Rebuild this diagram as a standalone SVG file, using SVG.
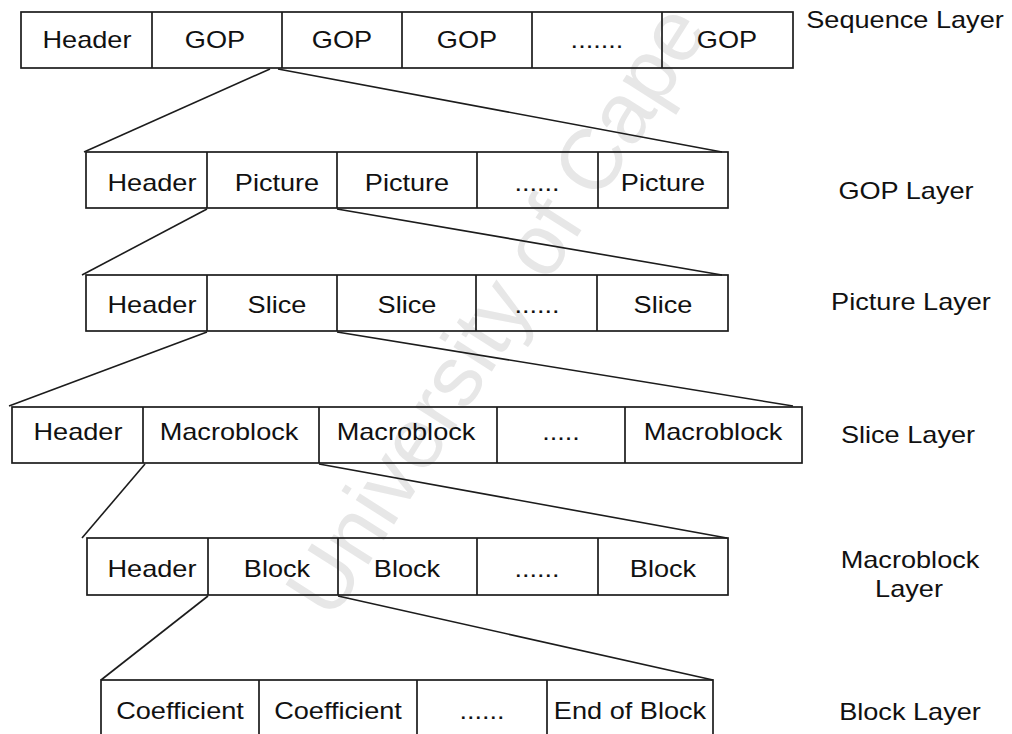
<svg xmlns="http://www.w3.org/2000/svg" width="1012" height="734" viewBox="0 0 1012 734">
  <style>
    .cell { fill: none; stroke: #1c1c1c; stroke-width: 1.7; }
    .link { fill: none; stroke: #1c1c1c; stroke-width: 1.6; }
    .t { font-family: "Liberation Sans", Arial, sans-serif; font-size: 23px; fill: #111; text-anchor: middle; }
    .wm { font-family: "Liberation Sans", Arial, sans-serif; font-size: 86px; fill: #e7e7e7; }
  </style>
  <rect width="1012" height="734" fill="#fff"/>

  <!-- faint background watermark -->
  <text class="wm" transform="translate(332 622) rotate(-57.5)">University of Cape</text>

  <!-- connectors between layers -->
  <g id="connectors">
    <polyline class="link" points="84,152 270,69"/>
    <polyline class="link" points="278,69 722,152"/>
    <polyline class="link" points="82,275 207,209"/>
    <polyline class="link" points="337,209 722,275"/>
    <polyline class="link" points="9,406 207,332"/>
    <polyline class="link" points="337,332 793,406"/>
    <polyline class="link" points="82,538 145,464"/>
    <polyline class="link" points="319,464 727,538"/>
    <polyline class="link" points="101,680 208,596"/>
    <polyline class="link" points="338,596 713,680"/>
  </g>

  <!-- Sequence layer -->
  <g id="sequence">
    <rect class="cell" x="21" y="12" width="772" height="56"/>
    <path class="cell" d="M152 12V68M282 12V68M402 12V68M532 12V68M662 12V68"/>
    <text class="t" transform="translate(87 48) scale(1.18 1)">Header</text>
    <text class="t" transform="translate(215 48) scale(1.18 1)">GOP</text>
    <text class="t" transform="translate(342 48) scale(1.18 1)">GOP</text>
    <text class="t" transform="translate(467 48) scale(1.18 1)">GOP</text>
    <text class="t" transform="translate(597 48) scale(1.18 1)">.......</text>
    <text class="t" transform="translate(727 48) scale(1.18 1)">GOP</text>
  </g>

  <!-- GOP layer -->
  <g id="gop">
    <rect class="cell" x="86" y="152" width="642" height="56"/>
    <path class="cell" d="M207 152V208M337 152V208M477 152V208M598 152V208"/>
    <text class="t" transform="translate(152 191) scale(1.18 1)">Header</text>
    <text class="t" transform="translate(277 191) scale(1.18 1)">Picture</text>
    <text class="t" transform="translate(407 191) scale(1.18 1)">Picture</text>
    <text class="t" transform="translate(537 191) scale(1.18 1)">......</text>
    <text class="t" transform="translate(663 191) scale(1.18 1)">Picture</text>
  </g>

  <!-- Picture layer -->
  <g id="picture">
    <rect class="cell" x="86" y="275" width="642" height="56"/>
    <path class="cell" d="M207 275V331M337 275V331M476 275V331M597 275V331"/>
    <text class="t" transform="translate(152 313) scale(1.18 1)">Header</text>
    <text class="t" transform="translate(277 313) scale(1.18 1)">Slice</text>
    <text class="t" transform="translate(407 313) scale(1.18 1)">Slice</text>
    <text class="t" transform="translate(537 313) scale(1.18 1)">......</text>
    <text class="t" transform="translate(663 313) scale(1.18 1)">Slice</text>
  </g>

  <!-- Slice layer -->
  <g id="slice">
    <rect class="cell" x="12" y="407" width="790" height="56"/>
    <path class="cell" d="M143 407V463M319 407V463M497 407V463M625 407V463"/>
    <text class="t" transform="translate(78 440) scale(1.18 1)">Header</text>
    <text class="t" transform="translate(229 440) scale(1.18 1)">Macroblock</text>
    <text class="t" transform="translate(406 440) scale(1.18 1)">Macroblock</text>
    <text class="t" transform="translate(561 440) scale(1.18 1)">.....</text>
    <text class="t" transform="translate(713 440) scale(1.18 1)">Macroblock</text>
  </g>

  <!-- Macroblock layer -->
  <g id="macroblock">
    <rect class="cell" x="87" y="538" width="641" height="57"/>
    <path class="cell" d="M208 538V595M338 538V595M477 538V595M598 538V595"/>
    <text class="t" transform="translate(152 577) scale(1.18 1)">Header</text>
    <text class="t" transform="translate(277 577) scale(1.18 1)">Block</text>
    <text class="t" transform="translate(407 577) scale(1.18 1)">Block</text>
    <text class="t" transform="translate(537 577) scale(1.18 1)">......</text>
    <text class="t" transform="translate(663 577) scale(1.18 1)">Block</text>
  </g>

  <!-- Block layer -->
  <g id="block">
    <rect class="cell" x="101" y="680" width="612" height="64"/>
    <path class="cell" d="M259 680V744M417 680V744M547 680V744"/>
    <text class="t" transform="translate(180 719) scale(1.18 1)">Coefficient</text>
    <text class="t" transform="translate(338 719) scale(1.18 1)">Coefficient</text>
    <text class="t" transform="translate(482 719) scale(1.18 1)">......</text>
    <text class="t" transform="translate(630 719) scale(1.18 1)">End of Block</text>
  </g>

  <!-- layer names -->
  <g id="labels">
    <text class="t" transform="translate(905 28) scale(1.18 1)">Sequence Layer</text>
    <text class="t" transform="translate(906 199) scale(1.18 1)">GOP Layer</text>
    <text class="t" transform="translate(911 310) scale(1.18 1)">Picture Layer</text>
    <text class="t" transform="translate(908 443) scale(1.18 1)">Slice Layer</text>
    <text class="t" transform="translate(910 568) scale(1.18 1)">Macroblock</text>
    <text class="t" transform="translate(909 597) scale(1.18 1)">Layer</text>
    <text class="t" transform="translate(910 720) scale(1.18 1)">Block Layer</text>
  </g>
</svg>
